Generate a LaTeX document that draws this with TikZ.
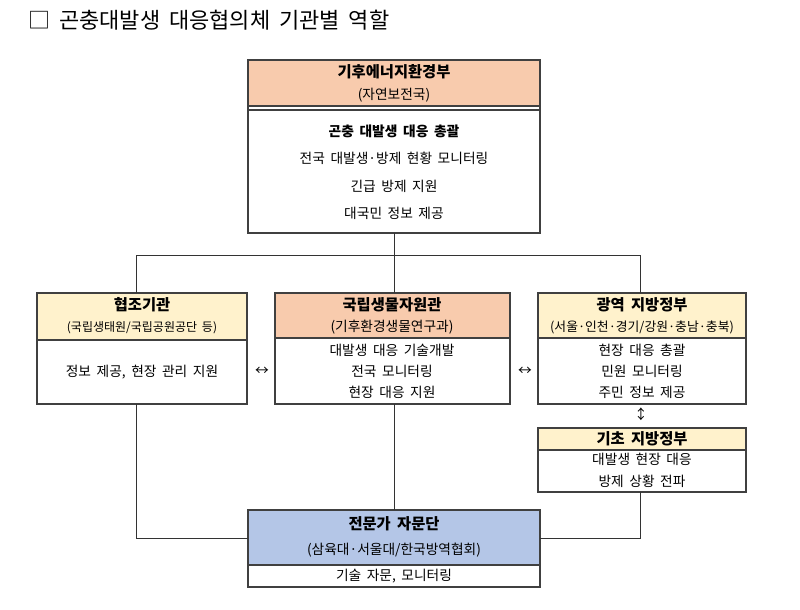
\documentclass[tikz,border=0pt]{standalone}
\usepackage{fontspec}
\setmainfont[WordSpace=1.8]{Noto Sans CJK KR}
\begin{document}
\begin{tikzpicture}[x=0.75pt,y=-0.75pt,
  box/.style={draw=black!75,line width=0.8pt},
  t/.style={font=\fontsize{10.3}{12}\selectfont,inner sep=0pt},
  h/.style={font=\fontsize{11.5}{13}\selectfont\bfseries,inner sep=0pt},
  ln/.style={draw=black!80,line width=0.7pt}]
\useasboundingbox (0,0) rectangle (800,610);
\definecolor{org}{HTML}{F8CBAD}\definecolor{yel}{HTML}{FFF2CC}\definecolor{blu}{HTML}{B4C6E7}
\node[anchor=west,inner sep=0pt,font=\fontsize{16.5}{19}\selectfont] (title) at (28,20) {□ 곤충대발생 대응협의체 기관별 역할};
% top
\fill[org] (248,60) rectangle (540,106);
\draw[box] (248,60) rectangle (540,233);
\draw[box] (248,106) -- (540,106); \draw[box] (248,110) -- (540,110);
\node[h] (a1) at (394,72) {기후에너지환경부};
\node[t] (a2) at (394,95) {(자연보전국)};
\node[h,font=\fontsize{10.3}{12}\selectfont\bfseries] (a3) at (394,131) {곤충 대발생 대응 총괄};
\node[t] (a4) at (394,158) {전국 대발생·방제 현황 모니터링};
\node[t] (a5) at (394,186) {긴급 방제 지원};
\node[t] (a6) at (394,213) {대국민 정보 제공};
% left
\fill[yel] (37,293) rectangle (247,340);
\draw[box] (37,293) rectangle (247,404); \draw[box] (37,340)--(247,340);
\node[h] (b1) at (142,305) {협조기관};
\node[t,font=\fontsize{9}{10}\selectfont] (b2) at (142,328) {(국립생태원/국립공원공단 등)};
\node[t] (b3) at (142,372) {정보 제공, 현장 관리 지원};
% middle
\fill[org] (275,293) rectangle (510,338);
\draw[box] (275,293) rectangle (510,404); \draw[box] (275,338)--(510,338);
\node[h] (c1) at (392,305) {국립생물자원관};
\node[t] (c2) at (392,327) {(기후환경생물연구과)};
\node[t] (c3) at (392,350) {대발생 대응 기술개발};
\node[t] (c4) at (392,371) {전국 모니터링};
\node[t] (c5) at (392,392) {현장 대응 지원};
% right
\fill[yel] (538,293) rectangle (746,338);
\draw[box] (538,293) rectangle (746,404); \draw[box] (538,338)--(746,338);
\node[h] (d1) at (642,305) {광역 지방정부};
\node[t,font=\fontsize{9.6}{11}\selectfont] (d2) at (642,327) {(서울·인천·경기/강원·충남·충북)};
\node[t] (d3) at (642,350) {현장 대응 총괄};
\node[t] (d4) at (642,371) {민원 모니터링};
\node[t] (d5) at (642,392) {주민 정보 제공};
% basic
\fill[yel] (538,428) rectangle (746,450);
\draw[box] (538,428) rectangle (746,492); \draw[box] (538,450)--(746,450);
\node[h] (e1) at (642,439) {기초 지방정부};
\node[t] (e2) at (642,459) {대발생 현장 대응};
\node[t] (e3) at (642,481) {방제 상황 전파};
% expert
\fill[blu] (248,510) rectangle (540,565);
\draw[box] (248,510) rectangle (540,587); \draw[box] (248,565)--(540,565);
\node[h] (f1) at (394,524) {전문가 자문단};
\node[t] (f2) at (394,550) {(삼육대·서울대/한국방역협회)};
\node[t] (f3) at (394,576) {기술 자문, 모니터링};
% arrows text
\node[t] (x1) at (262,371) {↔};
\node[t] (x2) at (525,371) {↔};
\node[t] (x3) at (641,414) {↕};
% connectors
\coordinate (j0) at (394,255);
\draw[ln] (394,233) -- (j0);
\draw[ln] (136,293) -- (136,255) -- (640,255) -- (640,293);
\draw[ln] (394,255) -- (394,293);
\draw[ln] (136,404) -- (136,538) -- (248,538);
\draw[ln] (394,404) -- (394,510);
\draw[ln] (640,492) -- (640,538) -- (540,538);
\end{tikzpicture}
\end{document}
